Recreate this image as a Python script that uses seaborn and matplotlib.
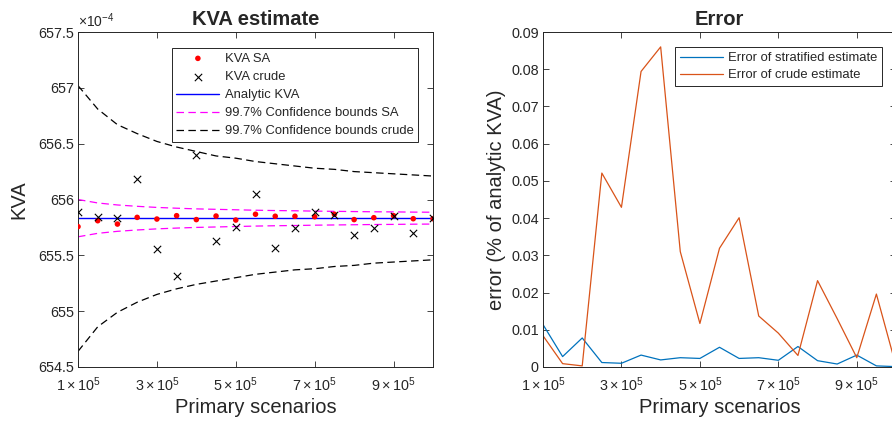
import matplotlib
matplotlib.use('Agg')
import matplotlib.pyplot as plt
import seaborn as sns

# primary scenarios, in units of 1e5
scen = [1.0, 1.5, 2.0, 2.5, 3.0, 3.5, 4.0, 4.5, 5.0, 5.5,
        6.0, 6.5, 7.0, 7.5, 8.0, 8.5, 9.0, 9.5, 10.0]

# KVA values in units of 1e-4
kva_sa = [655.757, 655.810, 655.780, 655.840, 655.825, 655.855, 655.820, 655.852, 655.816, 655.868,
          655.850, 655.850, 655.846, 655.868, 655.820, 655.837, 655.855, 655.828, 655.828]
kva_crude = [655.888, 655.843, 655.837, 656.180, 655.554, 655.312, 656.399, 655.628, 655.757, 656.045,
             655.569, 655.742, 655.891, 655.864, 655.679, 655.745, 655.855, 655.700, 655.834]
kva_analytic = [655.832] * len(scen)

sa_upper = [656.000, 655.969, 655.951, 655.939, 655.929, 655.922, 655.916, 655.912, 655.908, 655.904,
            655.901, 655.899, 655.896, 655.894, 655.892, 655.890, 655.889, 655.887, 655.886]
sa_lower = [655.666, 655.697, 655.715, 655.727, 655.737, 655.744, 655.750, 655.754, 655.758, 655.762,
            655.765, 655.767, 655.770, 655.772, 655.774, 655.776, 655.777, 655.779, 655.780]
crude_upper = [657.02, 656.81, 656.67, 656.59, 656.52, 656.47, 656.43, 656.39, 656.37, 656.34,
               656.32, 656.30, 656.28, 656.27, 656.25, 656.24, 656.23, 656.22, 656.21]
crude_lower = [654.64, 654.86, 654.99, 655.08, 655.15, 655.20, 655.24, 655.27, 655.30, 655.33,
               655.35, 655.37, 655.38, 655.40, 655.41, 655.43, 655.44, 655.45, 655.46]

# error in % of analytic KVA
err_strat = [0.0114, 0.0028, 0.0078, 0.0012, 0.0010, 0.0032, 0.0019, 0.0025, 0.0023, 0.0053,
             0.0023, 0.0025, 0.0018, 0.0055, 0.0017, 0.0008, 0.0032, 0.0003, 0.0001]
err_crude = [0.0084, 0.0009, 0.0003, 0.0521, 0.0429, 0.0794, 0.0860, 0.0310, 0.0117, 0.0319,
             0.0401, 0.0137, 0.0091, 0.0031, 0.0232, 0.0130, 0.0025, 0.0196, 0.0003]

xticks = [1, 3, 5, 7, 9]
xticklabels = [r'$%d\times10^{5}$' % v for v in xticks]

sns.set_theme(style='ticks')
plt.rcParams['font.family'] = ['Liberation Sans', 'DejaVu Sans']
plt.rcParams['mathtext.fontset'] = 'custom'
plt.rcParams['mathtext.rm'] = 'Liberation Sans'
plt.rcParams['mathtext.it'] = 'Liberation Sans:italic'
plt.rcParams['axes.edgecolor'] = '#262626'
plt.rcParams['axes.linewidth'] = 0.7

fig = plt.figure(figsize=(8.92, 4.28), dpi=100)
ax1 = fig.add_axes([78 / 892, 61 / 428, 355 / 892, 335 / 428])
ax2 = fig.add_axes([543 / 892, 61 / 428, 353 / 892, 335 / 428])

dash = (6, 3.5)
sns.scatterplot(x=scen, y=kva_sa, ax=ax1, color='red', marker='o', s=16, edgecolor='none',
                label='KVA SA', zorder=4)
sns.scatterplot(x=scen, y=kva_crude, ax=ax1, color='black', marker='x', s=28, linewidth=0.8,
                label='KVA crude', zorder=5)
sns.lineplot(x=scen, y=kva_analytic, ax=ax1, color='blue', linewidth=1.0, label='Analytic KVA')
sns.lineplot(x=scen, y=sa_upper, ax=ax1, color='magenta', linewidth=0.9, dashes=dash,
             label='99.7% Confidence bounds SA')
sns.lineplot(x=scen, y=sa_lower, ax=ax1, color='magenta', linewidth=0.9, dashes=dash)
sns.lineplot(x=scen, y=crude_upper, ax=ax1, color='black', linewidth=0.9, dashes=dash,
             label='99.7% Confidence bounds crude')
sns.lineplot(x=scen, y=crude_lower, ax=ax1, color='black', linewidth=0.9, dashes=dash)

ax1.set_xlim(1, 10)
ax1.set_ylim(654.5, 657.5)
ax1.set_yticks([654.5, 655, 655.5, 656, 656.5, 657, 657.5])
ax1.set_yticklabels(['654.5', '655', '655.5', '656', '656.5', '657', '657.5'])
ax1.set_title('KVA estimate', fontsize=14.5, fontweight='bold', pad=5)
ax1.set_ylabel('KVA', fontsize=14.5, color='#262626', labelpad=7)
ax1.text(0, 1.005, r'$\times10^{-4}$', transform=ax1.transAxes, fontsize=10,
         color='#262626', ha='left', va='bottom')

sns.lineplot(x=scen, y=err_strat, ax=ax2, color='#0072BD', linewidth=0.9,
             label='Error of stratified estimate')
sns.lineplot(x=scen, y=err_crude, ax=ax2, color='#D95319', linewidth=0.9,
             label='Error of crude estimate')
ax2.set_xlim(1, 10)
ax2.set_ylim(0, 0.09)
ax2.set_yticks([i / 100 for i in range(10)])
ax2.set_yticklabels(['0'] + ['%.2f' % (i / 100) for i in range(1, 10)])
ax2.set_title('Error', fontsize=14.5, fontweight='bold', pad=5)
ax2.set_ylabel('error (% of analytic KVA)', fontsize=14.5, color='#262626', labelpad=4)

for ax in (ax1, ax2):
    ax.set_xticks(xticks)
    ax.set_xticklabels(xticklabels)
    ax.set_xlabel('Primary scenarios', fontsize=14.5, color='#262626', labelpad=3)
    ax.tick_params(direction='in', top=True, right=True, length=4, width=0.6,
                   labelsize=10.4, labelcolor='#262626', color='#262626', pad=3)
    ax.tick_params(axis='x', pad=6)
    for sp in ax.spines.values():
        sp.set_visible(True)

leg1 = ax1.legend(loc='upper right', bbox_to_anchor=(0.958, 0.952), borderaxespad=0,
                  fontsize=9.4, frameon=True, fancybox=False, framealpha=1,
                  edgecolor='#262626', handlelength=3.3, handletextpad=0.4,
                  labelspacing=0.46, borderpad=0.35)
leg1.get_frame().set_linewidth(0.7)
leg2 = ax2.legend(loc='upper right', bbox_to_anchor=(0.960, 0.954), borderaxespad=0,
                  fontsize=9.4, frameon=True, fancybox=False, framealpha=1,
                  edgecolor='#262626', handlelength=3.3, handletextpad=0.4,
                  labelspacing=0.4, borderpad=0.35)
leg2.get_frame().set_linewidth(0.7)

fig.savefig('out.png', dpi=100)
